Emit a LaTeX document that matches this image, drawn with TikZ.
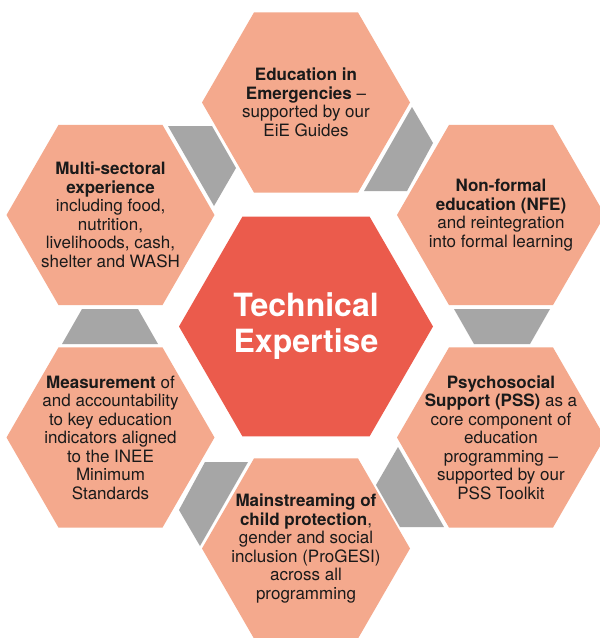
\documentclass[tikz,border=0pt]{standalone}
\usepackage{fontspec}
\setmainfont{TeX Gyre Heros}
\usetikzlibrary{shapes.geometric}
\definecolor{hexsalmon}{HTML}{F4A98D}
\definecolor{hexred}{HTML}{EB5B4C}
\definecolor{linkgray}{HTML}{A6A6A6}
\definecolor{txtblack}{HTML}{1A1A1A}

\begin{document}
\begin{tikzpicture}[x=1pt,y=-1pt,
  hexa/.style={regular polygon,regular polygon sides=6,inner sep=0pt,minimum size=208pt,fill=hexsalmon},
  txt/.style={align=center,font=\fontsize{17}{18.5}\selectfont,text=txtblack,inner sep=0pt},
  link/.style={fill=linkgray}]

\fill[white] (0,0) rectangle (600,638);
\useasboundingbox (0,0) rectangle (600,638);

\node[hexa,minimum size=254pt,fill=hexred] (tech) at (306,326.5) {};
\node[hexa] (edu) at (306,102.5) {};
\node[hexa] (multi) at (110.5,215) {};
\node[hexa] (nfe) at (501,215) {};
\node[hexa] (meas) at (110.5,437.5) {};
\node[hexa] (pss) at (501,437.5) {};
\node[hexa] (main) at (306,548.5) {};

% grey links between the outer hexagons
\fill[link] (168,126) -- (212,126) -- (236,168) -- (214,206) -- cycle;
\fill[link] (412,107) -- (433,143) -- (407,191) -- (364,191) -- cycle;
\fill[link] (82,309) -- (138,309) -- (158,344) -- (62,344) -- cycle;
\fill[link] (454,309) -- (550,309) -- (530,344) -- (474,344) -- cycle;
\fill[link] (398,447) -- (444,527) -- (400,527) -- (376,485) -- cycle;
\fill[link] (205,462) -- (248,462) -- (200,546) -- (179,510) -- cycle;

\node[txt,text=white,font=\fontsize{32}{36}\selectfont\bfseries] (techtxt) at (tech) {Technical\\Expertise};
\node[txt] (edutxt) at (edu) {\textbf{Education in}\\\textbf{Emergencies} –\\supported by our\\EiE Guides};
\node[txt] (multitxt) at (multi) {\textbf{Multi-sectoral}\\\textbf{experience}\\including food,\\nutrition,\\livelihoods, cash,\\shelter and WASH};
\node[txt] (nfetxt) at (nfe) {\textbf{Non-formal}\\\textbf{education (NFE)}\\and reintegration\\into formal learning};
\node[txt] (pstxt) at (pss) {\textbf{Psychosocial}\\\textbf{Support (PSS)} as a\\core component of\\education\\programming –\\supported by our\\PSS Toolkit};
\node[txt] (meastxt) at (meas) {\textbf{Measurement} of\\and accountability\\to key education\\indicators aligned\\to the INEE\\Minimum\\Standards};
\node[txt] (maintxt) at (main) {\textbf{Mainstreaming of}\\\textbf{child protection},\\gender and social\\inclusion (ProGESI)\\across all\\programming};

\end{tikzpicture}
\end{document}
